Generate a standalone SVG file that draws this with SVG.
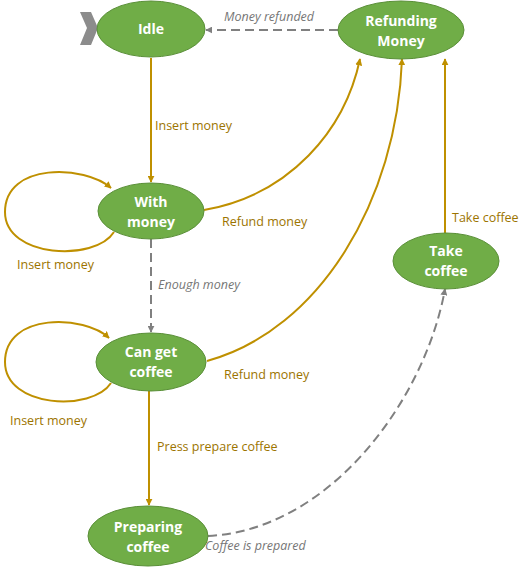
<svg xmlns="http://www.w3.org/2000/svg" width="530" height="567" viewBox="0 0 530 567">
<defs>
<marker id="ag" viewBox="0 0 10 10" refX="9" refY="5" markerWidth="7" markerHeight="7" markerUnits="userSpaceOnUse" orient="auto"><path d="M0,0L10,5L0,10z" fill="#BF9000"/></marker>
<marker id="ay" viewBox="0 0 10 10" refX="9" refY="5" markerWidth="7" markerHeight="7" markerUnits="userSpaceOnUse" orient="auto"><path d="M0,0L10,5L0,10z" fill="#808080"/></marker>
<style>
.n{fill:#70AD47;stroke:#5A8F38;stroke-width:1}
.t{font-family:"Open Sans","Liberation Sans",sans-serif;font-weight:bold;font-size:14px;fill:#fff;text-anchor:middle}
.g{fill:none;stroke:#BF9000;stroke-width:2;marker-end:url(#ag)}
.d{fill:none;stroke:#808080;stroke-width:2;stroke-dasharray:9,5;marker-end:url(#ay)}
.lg{font-family:"Open Sans","Liberation Sans",Arial,sans-serif;font-size:12.5px;fill:#9C7400}
.ld{font-family:"Open Sans","Liberation Sans",Arial,sans-serif;font-size:12.5px;font-style:italic;fill:#767676}
</style>
</defs>
<g id="connectors">
<path class="g" d="M151,58 L151,182"/>
<path class="g" d="M114,232 C95,262 5,258 5,212 C5,162 85,165 111,188"/>
<path class="g" d="M204,210 C290,195 345,130 360,59"/>
<path class="d" d="M151,239 L151,332"/>
<path class="g" d="M111,383 C92,412 5,408 5,362 C5,312 85,315 109,338"/>
<path class="g" d="M207,361 C320,330 397,200 402,59"/>
<path class="g" d="M149,391 L149,505"/>
<path class="d" d="M208,536 C330,530 425,400 445,289"/>
<path class="g" d="M445,233 L445,59"/>
<path class="d" d="M338,30 L206,30"/>
<text class="lg" x="155" y="130">Insert money</text>
<text class="lg" x="17" y="269">Insert money</text>
<text class="lg" x="222" y="226">Refund money</text>
<text class="ld" x="158" y="289">Enough money</text>
<text class="lg" x="10" y="425">Insert money</text>
<text class="lg" x="224" y="379">Refund money</text>
<text class="lg" x="157" y="451">Press prepare coffee</text>
<text class="ld" x="205" y="550">Coffee is prepared</text>
<text class="lg" x="452" y="222">Take coffee</text>
<text class="ld" x="224" y="21">Money refunded</text>
</g>
<g id="start"><path d="M80,12 L91,12 L98,28 L91,45 L80,45 L87,28 Z" fill="#8C8C8C"/></g>
<g id="idle"><ellipse class="n" cx="151" cy="29" rx="54" ry="28"/><text class="t" x="151" y="34">Idle</text></g>
<g id="refunding"><ellipse class="n" cx="401" cy="30" rx="63" ry="29"/><text class="t" x="401" y="26">Refunding</text><text class="t" x="401" y="46">Money</text></g>
<g id="withmoney"><ellipse class="n" cx="151" cy="211" rx="53" ry="28"/><text class="t" x="151" y="207">With</text><text class="t" x="151" y="227">money</text></g>
<g id="cangetcoffee"><ellipse class="n" cx="151" cy="362" rx="55" ry="29"/><text class="t" x="151" y="357">Can get</text><text class="t" x="151" y="377">coffee</text></g>
<g id="preparing"><ellipse class="n" cx="148" cy="536" rx="60" ry="30"/><text class="t" x="148" y="532">Preparing</text><text class="t" x="148" y="552">coffee</text></g>
<g id="takecoffee"><ellipse class="n" cx="446" cy="261" rx="53" ry="28"/><text class="t" x="446" y="256">Take</text><text class="t" x="446" y="276">coffee</text></g>
</svg>
